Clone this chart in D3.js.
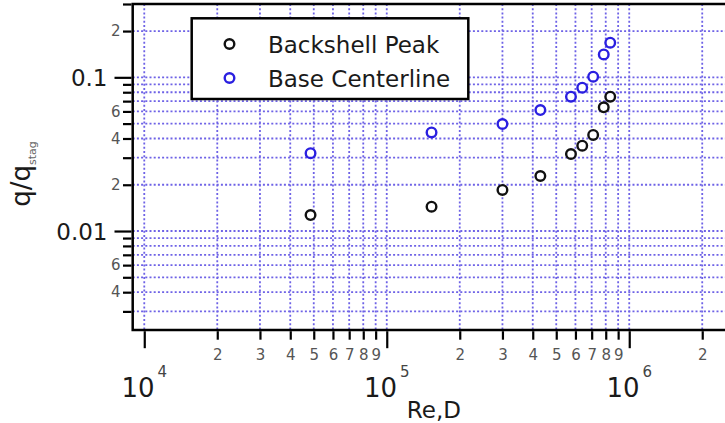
<!DOCTYPE html>
<html>
<head>
<meta charset="utf-8">
<script src="https://cdn.jsdelivr.net/npm/d3@7"></script>
<style>
  html, body { margin: 0; padding: 0; background: #fff; }
  svg { display: block; font-family: "DejaVu Sans", Verdana, sans-serif; }
</style>
</head>
<body>
<div id="vis"></div>
<script>

// Reynolds number of each run (shared by both series)
var reynolds = [4.85e4, 1.53e5, 3.0e5, 4.3e5, 5.75e5, 6.4e5, 7.1e5, 7.85e5, 8.35e5];

// heating ratio q/q_stag
var backshellPeak = [0.0127, 0.0144, 0.0185, 0.0228, 0.0317, 0.0359, 0.0422, 0.0638, 0.0748];
var baseCenterline = [0.0321, 0.0438, 0.0497, 0.0612, 0.0748, 0.0856, 0.101, 0.141, 0.168];

var seriesNames = ['Backshell Peak', 'Base Centerline'];
var seriesColors = ['#111111', '#2a1fe0'];

// tick labels
var xDecades = [1e4, 1e5, 1e6];
var yDecades = [0.01, 0.1];
var yMajorLabels = ['0.01', '0.1'];
var yLabeledMantissas = [2, 4, 6];

var width = 725;
var height = 423;

var plot = { left: 132.7, right: 735, top: 4, bottom: 330 };

var x = d3.scaleLog()
  .domain([8960, 2.73e6])
  .range([plot.left, plot.right]);

var y = d3.scaleLog()
  .domain([0.00227, 0.3])
  .range([plot.bottom, plot.top]);

var gridColor = '#6e62e6';

function mantissa(v) {
  return Math.round(v / Math.pow(10, Math.floor(Math.log10(v) + 1e-9)));
}

var svg = d3.select('#vis')
  .append('svg')
  .attr('width', width)
  .attr('height', height);

// no tick below the first decade (it would sit on the frame)
var xTicks = x.ticks().filter(function(v) { return v >= xDecades[0] && x(v) <= plot.right; });
var yTicks = y.ticks().filter(function(v) { return y(v) <= plot.bottom && y(v) >= plot.top; });

// dotted grid at every tick
var grid = svg.append('g')
  .attr('stroke', gridColor)
  .attr('stroke-width', 1.8)
  .attr('stroke-dasharray', '2,2.2');

grid.selectAll('.vgrid')
  .data(xTicks)
  .enter().append('line')
  .attr('x1', function(d) { return x(d); })
  .attr('x2', function(d) { return x(d); })
  .attr('y1', plot.top)
  .attr('y2', plot.bottom);

grid.selectAll('.hgrid')
  .data(yTicks)
  .enter().append('line')
  .attr('x1', plot.left)
  .attr('x2', plot.right)
  .attr('y1', function(d) { return y(d); })
  .attr('y2', function(d) { return y(d); });

// legend box (drawn over the grid)
var legend = svg.append('g');

legend.append('rect')
  .attr('x', 191.7)
  .attr('y', 18.3)
  .attr('width', 276.6)
  .attr('height', 80.7)
  .attr('fill', '#fff')
  .attr('stroke', '#000')
  .attr('stroke-width', 2.5);

var legendRows = [44, 78];

legend.selectAll('.legend-mark')
  .data(seriesNames)
  .enter().append('circle')
  .attr('cx', 229.5)
  .attr('cy', function(d, i) { return legendRows[i]; })
  .attr('r', 4.8)
  .attr('fill', '#fff')
  .attr('stroke', function(d, i) { return seriesColors[i]; })
  .attr('stroke-width', 2.4);

legend.selectAll('.legend-text')
  .data(seriesNames)
  .enter().append('text')
  .attr('x', 268)
  .attr('y', function(d, i) { return legendRows[i] + 8.5; })
  .attr('font-size', 23)
  .attr('fill', '#1a1a1a')
  .text(function(d) { return d; });

// frame
svg.append('rect')
  .attr('x', plot.left)
  .attr('y', plot.top)
  .attr('width', plot.right - plot.left)
  .attr('height', plot.bottom - plot.top)
  .attr('fill', 'none')
  .attr('stroke', '#000')
  .attr('stroke-width', 2.5);

// x axis: long ticks at decades, short labelled ones between
var xMinor = xTicks.filter(function(v) { return mantissa(v) !== 1; });
var xMajor = xTicks.filter(function(v) { return mantissa(v) === 1; });

var xMinorAxis = svg.append('g')
  .attr('transform', 'translate(0,' + (plot.bottom + 1.2) + ')')
  .call(d3.axisBottom(x).tickValues(xMinor).tickSize(8.5).tickPadding(10)
    .tickFormat(function(d) { return mantissa(d); }));

var xMajorAxis = svg.append('g')
  .attr('transform', 'translate(0,' + (plot.bottom + 1.2) + ')')
  .call(d3.axisBottom(x).tickValues(xMajor).tickSize(17).tickFormat(''));

// y axis
var yMinor = yTicks.filter(function(v) { return mantissa(v) !== 1; });
var yMajor = yTicks.filter(function(v) { return mantissa(v) === 1; });

var yMinorAxis = svg.append('g')
  .attr('transform', 'translate(' + (plot.left - 1.2) + ',0)')
  .call(d3.axisLeft(y).tickValues(yMinor).tickSize(8.5).tickPadding(2.5)
    .tickFormat(function(d) {
      var m = mantissa(d);
      return yLabeledMantissas.indexOf(m) >= 0 ? m : '';
    }));

var yMajorAxis = svg.append('g')
  .attr('transform', 'translate(' + (plot.left - 1.2) + ',0)')
  .call(d3.axisLeft(y).tickValues(yMajor).tickSize(17).tickFormat(''));

[xMinorAxis, xMajorAxis, yMinorAxis, yMajorAxis].forEach(function(g) {
  g.select('.domain').remove();
  g.selectAll('line').attr('stroke', '#000').attr('stroke-width', 2.2);
  g.selectAll('text')
    .attr('font-family', '"DejaVu Sans", Verdana, sans-serif')
    .attr('font-size', 15)
    .attr('fill', '#555');
});

// 10^n labels under the decade ticks
var decadeLabels = svg.append('g')
  .selectAll('text')
  .data(xDecades)
  .enter().append('text')
  .attr('x', function(d) { return x(d); })
  .attr('y', 397)
  .attr('text-anchor', 'middle')
  .attr('font-size', 26)
  .attr('fill', '#1a1a1a');

decadeLabels.append('tspan').text('10');
decadeLabels.append('tspan')
  .attr('dx', 3)
  .attr('dy', -20)
  .attr('font-size', 15)
  .attr('fill', '#444')
  .text(function(d) { return Math.round(Math.log10(d)); });

// y decade labels
svg.append('g')
  .selectAll('text')
  .data(yDecades)
  .enter().append('text')
  .attr('x', 107.5)
  .attr('y', function(d) { return y(d) + 8.5; })
  .attr('text-anchor', 'end')
  .attr('font-size', 23)
  .attr('fill', '#1a1a1a')
  .text(function(d, i) { return yMajorLabels[i]; });

// axis titles
svg.append('text')
  .attr('x', (plot.left + plot.right) / 2)
  .attr('y', 418)
  .attr('text-anchor', 'middle')
  .attr('font-size', 23)
  .attr('fill', '#1a1a1a')
  .text('Re,D');

var yTitle = svg.append('text')
  .attr('transform', 'translate(30,174) rotate(-90)')
  .attr('text-anchor', 'middle')
  .attr('font-size', 26)
  .attr('fill', '#1a1a1a');

yTitle.append('tspan').text('q/q');
yTitle.append('tspan')
  .attr('dy', 6)
  .attr('font-size', 11)
  .attr('fill', '#666')
  .text('stag');

// data points
var series = [backshellPeak, baseCenterline];

series.forEach(function(values, i) {
  svg.append('g')
    .selectAll('circle')
    .data(values)
    .enter().append('circle')
    .attr('cx', function(d, j) { return x(reynolds[j]); })
    .attr('cy', function(d) { return y(d); })
    .attr('r', 4.8)
    .attr('fill', '#fff')
    .attr('stroke', seriesColors[i])
    .attr('stroke-width', 2.4);
});

</script>
</body>
</html>
